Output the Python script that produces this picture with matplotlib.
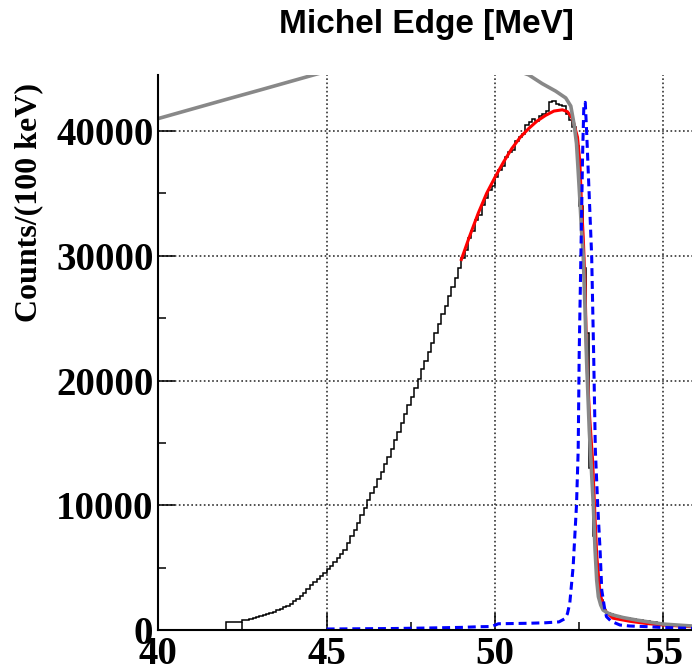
import numpy as np
import matplotlib
matplotlib.use("Agg")
import matplotlib.pyplot as plt

# ==== DATA ====
# black histogram, 100 keV bins starting at 42.0 MeV
hist_start, hist_width = 42.0, 0.1
hist_counts = [
    660, 670, 670, 680, 680, 800, 840, 900, 980, 1060,               # 42.x
    1150, 1220, 1300, 1380, 1460, 1600, 1700, 1820, 1950, 2100,      # 43.x
    2300, 2500, 2750, 3000, 3300, 3600, 3850, 4100, 4350, 4600,      # 44.x
    4850, 5150, 5450, 5800, 6100, 6450, 6950, 7500, 8000, 8600,      # 45.x
    9200, 9800, 10400, 11000, 11500, 12100, 12700, 13300, 13900, 14500,  # 46.x
    15200, 15900, 16600, 17300, 18000, 18700, 19400, 20100, 20900, 21600,  # 47.x
    22300, 23000, 23800, 24500, 25300, 26000, 26800, 27500, 28200, 29000,  # 48.x
    29800, 30500, 31400, 32000, 32900, 33300, 34100, 34600, 35300, 35600,  # 49.x
    36300, 36900, 37200, 37900, 38300, 38500, 39200, 39500, 39800, 40500,  # 50.x
    40700, 41000, 40800, 41200, 41400, 41600, 42300, 42400, 42200, 42100,  # 51.x
    42000, 41400, 40900, 40300, 38800, 34000, 29000, 23800, 13000, 7500,   # 52.x
    4000, 2400, 1600, 1350, 1250, 1150, 1100, 1050, 1000, 950,       # 53.x
    900, 860, 820, 780, 740, 700, 660, 620, 590, 560,                # 54.x
    520, 490, 460, 430, 400, 370, 340, 320, 300, 280,                # 55.x
]

# red fit curve
fit_x = [49.0, 49.25, 49.5, 49.75, 50.0, 50.25, 50.5, 50.75, 51.0, 51.25,
         51.5, 51.75, 52.0, 52.15, 52.3, 52.45, 52.52, 52.57, 52.62, 52.67,
         52.72, 52.8, 52.9, 52.97, 53.02, 53.12, 53.25, 53.5, 54.0, 54.5,
         55.0, 55.85]
fit_y = [29700, 31600, 33400, 35000, 36300, 37500, 38600, 39500, 40200, 40800,
         41250, 41600, 41700, 41550, 41000, 39500, 37500, 34000, 31500, 28000,
         22000, 17500, 13500, 9000, 6000, 2900, 1600, 950, 700, 520,
         400, 260]

# grey curve (goes off the top between ~44.7 and ~51)
grey_x = [40, 41, 42, 43, 44, 45, 46, 47, 48, 49, 50, 50.5, 51.0, 51.4, 51.8,
          52.1, 52.25, 52.35, 52.42, 52.47, 52.52, 52.57, 52.62, 52.67, 52.72,
          52.8, 52.87, 52.92, 52.97, 53.02, 53.07, 53.14, 53.21, 53.35, 53.51,
          53.8, 54.2, 54.6, 54.98, 55.4, 55.85]
grey_y = [41000, 41760, 42520, 43270, 44030, 44790, 45400, 45800, 46000, 45900,
          45400, 45000, 44500, 43800, 43200, 42650, 42000, 40500, 39000, 36800,
          34500, 32000, 30000, 26000, 21600, 16000, 12500, 10000, 6500, 4000,
          2670, 2000, 1600, 1350, 1200, 1000, 800, 630, 480, 400, 320]

# blue dashed peak
blue_x = [45.0, 46.0, 47.0, 48.0, 49.0, 49.5, 49.9, 50.1, 51.0, 51.5, 51.9,
          52.07, 52.15, 52.22, 52.32, 52.42, 52.47, 52.5, 52.55, 52.6, 52.64,
          52.68, 52.72, 52.78, 52.87, 52.93, 52.98, 53.05, 53.12, 53.17, 53.25,
          53.31, 53.45, 53.71, 54.0, 54.5, 55.0, 55.85]
blue_y = [80, 100, 120, 160, 210, 260, 280, 500, 540, 580, 650,
          900, 1300, 2140, 5070, 10020, 14430, 22200, 30000, 38000, 42250,
          42300, 40000, 36000, 30000, 22000, 14400, 10000, 6400, 3200, 1800,
          1070, 700, 400, 320, 270, 200, 130]

x_ticks = [40, 45, 50, 55]
y_ticks = [0, 10000, 20000, 30000, 40000]

# ==== PLOT ====
W, H = 692, 671
fig = plt.figure(figsize=(W / 100, H / 100), dpi=100)
ax = fig.add_axes([158.3 / W, 41 / H, (W - 158.3) / W, (630 - 74.5) / H])

edges = np.round(hist_start + hist_width * np.arange(len(hist_counts) + 1), 2)
ax.stairs(hist_counts, edges, baseline=0, color="black", lw=1.1, zorder=2)
ax.plot(fit_x, fit_y, color="red", lw=2.2, zorder=3)
ax.plot(grey_x, grey_y, color="#888888", lw=2.6, zorder=4)
ax.plot(blue_x, blue_y, color="blue", lw=2.2, linestyle=(0, (2.6, 1.6)), zorder=5)

ax.set_xlim(40, 55.85)
ax.set_ylim(0, 44530)

ax.set_xticks(x_ticks)
ax.set_yticks(y_ticks)
ax.set_xticks([42.5, 47.5, 52.5], minor=True)
ax.set_yticks([5000, 15000, 25000, 35000], minor=True)

tick_font = dict(family="Liberation Serif", weight="bold", size=28)
ax.set_xticklabels([str(v) for v in x_ticks], fontdict=tick_font)
ax.set_yticklabels([str(v) for v in y_ticks], fontdict=tick_font)

ax.tick_params(which="major", direction="in", length=12, width=1.1, color="black")
ax.tick_params(which="minor", direction="in", length=6, width=1.1, color="black")
ax.tick_params(axis="y", pad=3.5)
ax.tick_params(axis="x", pad=4)

ax.grid(True, which="major", linestyle=(0, (1, 1.5)), color="#333333", lw=1.2)
ax.set_axisbelow(True)

for side in ("top", "right"):
    ax.spines[side].set_visible(False)
for side in ("left", "bottom"):
    ax.spines[side].set_linewidth(1.5)
    ax.spines[side].set_zorder(6)

fig.text(426 / W, 1 - 25 / H, "Michel Edge [MeV]", ha="center", va="center",
         family="Liberation Sans", weight="bold", size=24)
fig.text(29 / W, 1 - 83 / H, "Counts/(100 keV)", ha="center", va="top",
         rotation=90, family="Liberation Serif", weight="bold", size=23)

fig.savefig("out.png", dpi=100)
